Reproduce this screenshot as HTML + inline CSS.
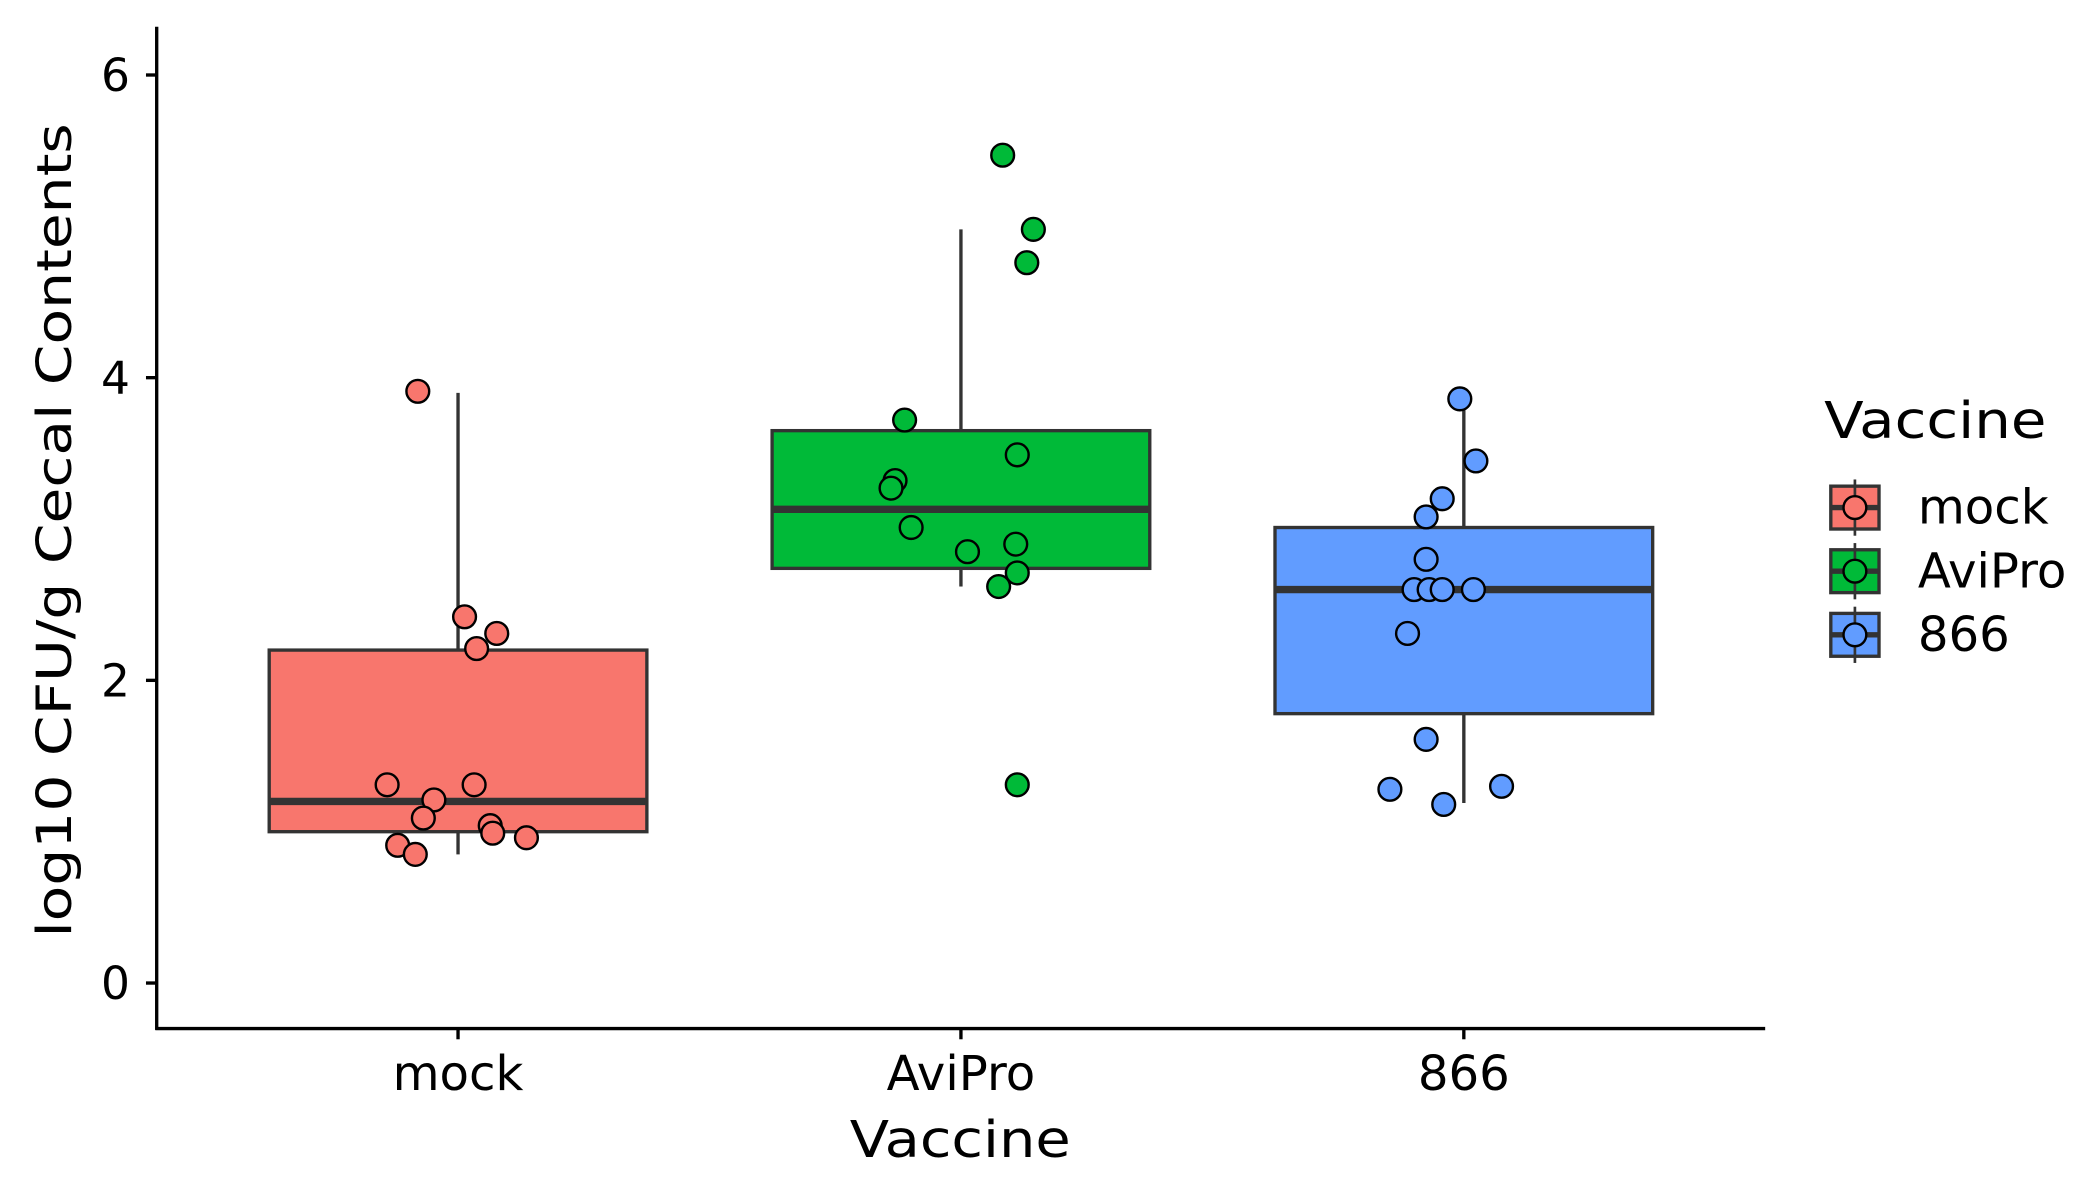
<!DOCTYPE html>
<html><head><meta charset="utf-8"><style>
html,body{margin:0;padding:0;background:#fff}
svg{display:block}
text{font-family:"DejaVu Sans","Liberation Sans",sans-serif;fill:#000}
</style></head><body>
<svg id="chart" width="2100" height="1200" viewBox="0 0 1568 896" preserveAspectRatio="none" xmlns="http://www.w3.org/2000/svg">
<g id="plot"></g>
<line x1="117" y1="20" x2="117" y2="769" stroke="#000" stroke-width="2.5"/>
<line x1="116" y1="768" x2="1318" y2="768" stroke="#000" stroke-width="2.5"/>
<g id="axes"></g>
<text transform="translate(53,396) rotate(-90)" text-anchor="middle" font-size="36" textLength="608" lengthAdjust="spacingAndGlyphs">log10 CFU/g Cecal Contents</text>
<text x="717" y="864" text-anchor="middle" font-size="38" textLength="165" lengthAdjust="spacingAndGlyphs">Vaccine</text>
<g id="legend">
<text x="1362" y="327" font-size="38" textLength="166" lengthAdjust="spacingAndGlyphs">Vaccine</text>
</g>
</svg>
<script>
const categories = ["mock", "AviPro", "866"];
const colors = ["#F8766D", "#00BA38", "#619CFF"];
const boxLow = [1.0, 2.74, 1.78];
const boxMedian = [1.2, 3.13, 2.6];
const boxHigh = [2.2, 3.65, 3.01];
const whiskerLow = [0.85, 2.62, 1.19];
const whiskerHigh = [3.9, 4.98, 3.86];
const yTicks = [0, 2, 4, 6];
const mockValues = [3.91, 2.42, 2.31, 2.21, 1.31, 1.31, 1.21, 1.09, 1.04, 0.99, 0.96, 0.91, 0.85];
const mockJitter = [-0.08, 0.013, 0.077, 0.037, -0.141, 0.032, -0.048, -0.069, 0.064, 0.069, 0.136, -0.120, -0.085];
const aviproValues = [5.47, 4.98, 4.76, 3.72, 3.49, 3.32, 3.27, 3.01, 2.90, 2.85, 2.71, 2.62, 1.31];
const aviproJitter = [0.083, 0.144, 0.131, -0.112, 0.112, -0.131, -0.139, -0.099, 0.109, 0.013, 0.112, 0.075, 0.112];
const b866Values = [3.86, 3.45, 3.20, 3.08, 2.80, 2.60, 2.60, 2.60, 2.60, 2.31, 1.61, 1.28, 1.30, 1.18];
const b866Jitter = [-0.008, 0.024, -0.043, -0.075, -0.075, -0.099, -0.069, -0.043, 0.019, -0.112, -0.075, -0.147, 0.075, -0.040];
const pointValues = [mockValues, aviproValues, b866Values];
const pointJitter = [mockJitter, aviproJitter, b866Jitter];

const NS = "http://www.w3.org/2000/svg";
const xScale = i => 342 + i * 375.5;
const yScale = v => 734 - v * 113;
const halfW = 141;
function mk(tag, attrs, parent){const e=document.createElementNS(NS,tag);for(const k in attrs)e.setAttribute(k,attrs[k]);parent.appendChild(e);return e;}
const plot = document.getElementById('plot');
const axes = document.getElementById('axes');
const legend = document.getElementById('legend');

yTicks.forEach(t=>{
  const y=yScale(t);
  const l=mk('line',{x1:109,x2:117,y1:y,y2:y,stroke:'#000','stroke-width':2.5},axes);
  
  
  const tx=mk('text',{x:97,y:y+12,'text-anchor':'end','font-size':34},axes);
  tx.textContent=t;
  
  
});
categories.forEach((c,i)=>{
  const x=xScale(i);
  const l=mk('line',{x1:x,x2:x,y1:768,y2:776,stroke:'#000','stroke-width':2.5},axes);
  
  
  const tx=mk('text',{x:x,y:814,'text-anchor':'middle','font-size':36},axes);
  tx.textContent=c;
  
  

  const g=mk('g',{},plot);
  
  
  const w1=mk('line',{x1:x,x2:x,y1:yScale(whiskerHigh[i]),y2:yScale(boxHigh[i]),stroke:'#333','stroke-width':2.5},g);
  
  
  const w2=mk('line',{x1:x,x2:x,y1:yScale(boxLow[i]),y2:yScale(whiskerLow[i]),stroke:'#333','stroke-width':2.5},g);
  
  
  const r=mk('rect',{x:x-halfW,y:yScale(boxHigh[i]),width:2*halfW,height:yScale(boxLow[i])-yScale(boxHigh[i]),fill:colors[i],stroke:'#333','stroke-width':2.5},g);
  
  
  const m=mk('line',{x1:x-halfW,x2:x+halfW,y1:yScale(boxMedian[i]),y2:yScale(boxMedian[i]),stroke:'#333','stroke-width':5.5},g);
  
  
});
categories.forEach((c,i)=>{
  pointValues[i].forEach((v,j)=>{
    const p=mk('circle',{cx:xScale(i)+pointJitter[i][j]*375.5,cy:yScale(v),r:8.5,fill:colors[i],stroke:'#000','stroke-width':1.8},plot);
    
    
  });
});
categories.forEach((c,i)=>{
  const cy=379+i*47.5;
  const g=mk('g',{},legend);
  
  
  mk('rect',{x:1367,y:cy-16,width:36,height:32,fill:colors[i],stroke:'#333','stroke-width':2.5},g);
  mk('line',{x1:1385,x2:1385,y1:cy-21,y2:cy+21,stroke:'#333','stroke-width':2},g);
  mk('line',{x1:1367,x2:1403,y1:cy,y2:cy,stroke:'#333','stroke-width':4},g);
  mk('circle',{cx:1385,cy:cy,r:8.5,fill:colors[i],stroke:'#000','stroke-width':1.8},g);
  const tx=mk('text',{x:1432,y:cy+12,'font-size':36},g);
  tx.textContent=c;
  
  
});
</script>
</body></html>
